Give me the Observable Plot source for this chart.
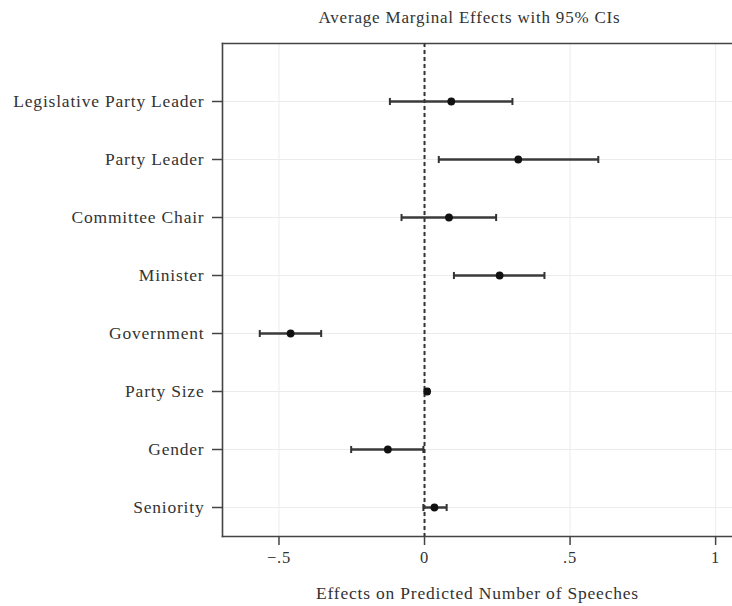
<!DOCTYPE html>
<html>
<head>
<meta charset="utf-8">
<script src="https://cdn.jsdelivr.net/npm/d3@7"></script>
<script src="https://cdn.jsdelivr.net/npm/@observablehq/plot@0.6"></script>
<style>
  html, body { margin: 0; padding: 0; background: #fff; }
</style>
</head>
<body>
<div id="chart"></div>
<script>
const labels = ["Legislative Party Leader", "Party Leader", "Committee Chair", "Minister", "Government", "Party Size", "Gender", "Seniority"];
const estimates = [0.092, 0.322, 0.084, 0.258, -0.460, 0.009, -0.126, 0.034];
const lowerCI = [-0.119, 0.049, -0.079, 0.101, -0.566, 0.003, -0.252, -0.004];
const upperCI = [0.302, 0.597, 0.246, 0.412, -0.355, 0.015, -0.004, 0.076];
const xTicks = [-0.5, 0, 0.5, 1];
const xTickLabels = ["\u2212.5", "0", ".5", "1"];
const titleText = "Average Marginal Effects with 95% CIs";
const xLabelText = "Effects on Predicted Number of Speeches";

const data = labels.map((label, i) => ({label, pos: i + 1, est: estimates[i], lo: lowerCI[i], hi: upperCI[i]}));
const positions = data.map(d => d.pos);

const cap = {
  draw(context, size) {
    const h = Math.sqrt(size) / 2;
    context.moveTo(0, -h);
    context.lineTo(0, h);
  }
};

const font = "'Liberation Serif', 'DejaVu Serif', serif";

const chart = Plot.plot({
  width: 732,
  height: 606,
  marginLeft: 222,
  marginRight: 0,
  marginTop: 43,
  marginBottom: 70,
  style: {fontFamily: font, fontSize: "17px", color: "#333", background: "#fff", letterSpacing: "0.8px"},
  x: {domain: [-0.694, 1.058]},
  y: {domain: [0, 8.5], reverse: true},
  marks: [
    Plot.gridX(xTicks, {stroke: "#ececec", strokeOpacity: 1, strokeWidth: 1}),
    Plot.gridY(positions, {stroke: "#ececec", strokeOpacity: 1, strokeWidth: 1}),
    Plot.axisX(xTicks, {tickFormat: d => xTickLabels[xTicks.indexOf(d)], tickSize: 9, tickPadding: 6, label: null, fontSize: 16.5, stroke: "#444", strokeWidth: 1.5}),
    Plot.axisY(positions, {tickFormat: d => labels[d - 1], tickSize: 10, tickPadding: 8, label: null, fontSize: 17.5, stroke: "#444", strokeWidth: 1.5}),
    Plot.frame({anchor: "left", stroke: "#444", strokeWidth: 1.6}),
    Plot.frame({anchor: "top", stroke: "#444", strokeWidth: 1.6}),
    Plot.frame({anchor: "bottom", stroke: "#444", strokeWidth: 1.6}),
    Plot.ruleX([0], {stroke: "#333", strokeWidth: 2, strokeDasharray: "4,3"}),
    Plot.link(data, {x1: "lo", x2: "hi", y1: "pos", y2: "pos", stroke: "#3a3a3a", strokeWidth: 2.5}),
    Plot.dot(data, {x: "lo", y: "pos", symbol: cap, r: 4, stroke: "#333", fill: "none", strokeWidth: 2}),
    Plot.dot(data, {x: "hi", y: "pos", symbol: cap, r: 4, stroke: "#333", fill: "none", strokeWidth: 2}),
    Plot.dot(data, {x: "est", y: "pos", r: 3.9, fill: "#111", stroke: "none"}),
    Plot.text([titleText], {text: d => d, frameAnchor: "top", dy: -26, dx: -8, fontSize: 17, fill: "#333", lineAnchor: "middle"}),
    Plot.text([xLabelText], {text: d => d, frameAnchor: "bottom", dy: 57, fontSize: 17.5, fill: "#333", lineAnchor: "middle"})
  ]
});

document.getElementById("chart").appendChild(chart);
</script>
</body>
</html>
